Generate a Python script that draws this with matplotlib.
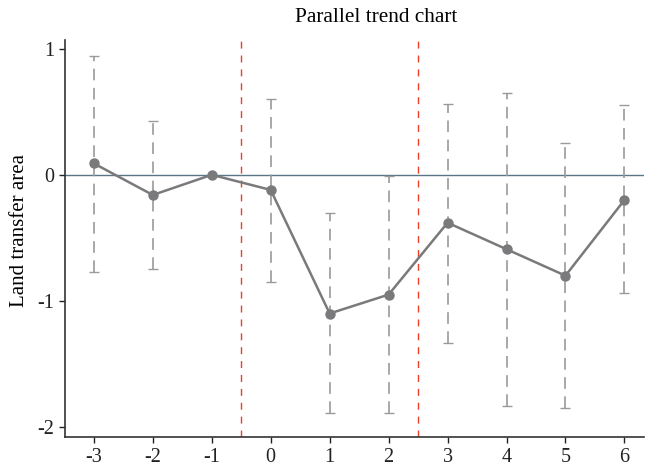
import numpy as np
import matplotlib.pyplot as plt

plt.rcParams.update({
    "font.family": "Liberation Serif",
    "font.size": 14,
    "xtick.labelsize": 14.5,
    "ytick.labelsize": 14.5,
})

periods = [-3, -2, -1, 0, 1, 2, 3, 4, 5, 6]
coef = [0.09, -0.16, 0.0, -0.12, -1.10, -0.95, -0.38, -0.59, -0.80, -0.20]
ci_high = [0.94, 0.43, 0.0, 0.60, -0.30, -0.01, 0.56, 0.65, 0.25, 0.55]
ci_low = [-0.77, -0.75, 0.0, -0.85, -1.89, -1.89, -1.33, -1.83, -1.85, -0.94]
event_lines = [-0.5, 2.5]

fig = plt.figure(figsize=(6.46, 4.69), dpi=100)
ax = fig.add_axes([0.1006, 0.068, 0.897, 0.847])

x = np.array(periods)
y = np.array(coef)
lo = np.array(ci_low)
hi = np.array(ci_high)

ax.axhline(0, color="#5a7585", lw=1.0, zorder=1)
for xv in event_lines:
    ax.axvline(xv, color="#ea3f28", lw=1.0, ls=(0, (5, 5)), zorder=1)

# period -1 is the reference, no interval drawn
has_ci = hi != lo
eb = ax.errorbar(x[has_ci], y[has_ci], yerr=[y[has_ci] - lo[has_ci], hi[has_ci] - y[has_ci]],
                 fmt="none", ecolor="#9a9a9a", elinewidth=1.2, capsize=3.5, capthick=1.0, zorder=2)
eb[2][0].set_linestyle((0, (7, 4.5)))

ax.plot(x, y, color="#7a7a7c", lw=1.8, marker="o", ms=6.5, zorder=3)

ax.set_xlim(-3.49, 6.34)
ax.set_ylim(-2.08, 1.07)
ax.set_xticks(periods)
ax.set_xticklabels([str(p) for p in periods])
ax.set_yticks([1, 0, -1, -2])
ax.set_yticklabels(["1", "0", "-1", "-2"])
ax.spines["top"].set_visible(False)
ax.spines["right"].set_visible(False)
for s in ["left", "bottom"]:
    ax.spines[s].set_color("#333333")
    ax.spines[s].set_linewidth(1.2)
ax.tick_params(colors="#222222", length=4, width=1.0, pad=4)
ax.set_ylabel("Land transfer area", fontsize=15)
ax.yaxis.set_label_coords(-0.062, 0.52)
fig.text(376 / 646, 1 - 18 / 469, "Parallel trend chart", ha="center", va="center", fontsize=15.3)

fig.savefig("out.png", dpi=100)
